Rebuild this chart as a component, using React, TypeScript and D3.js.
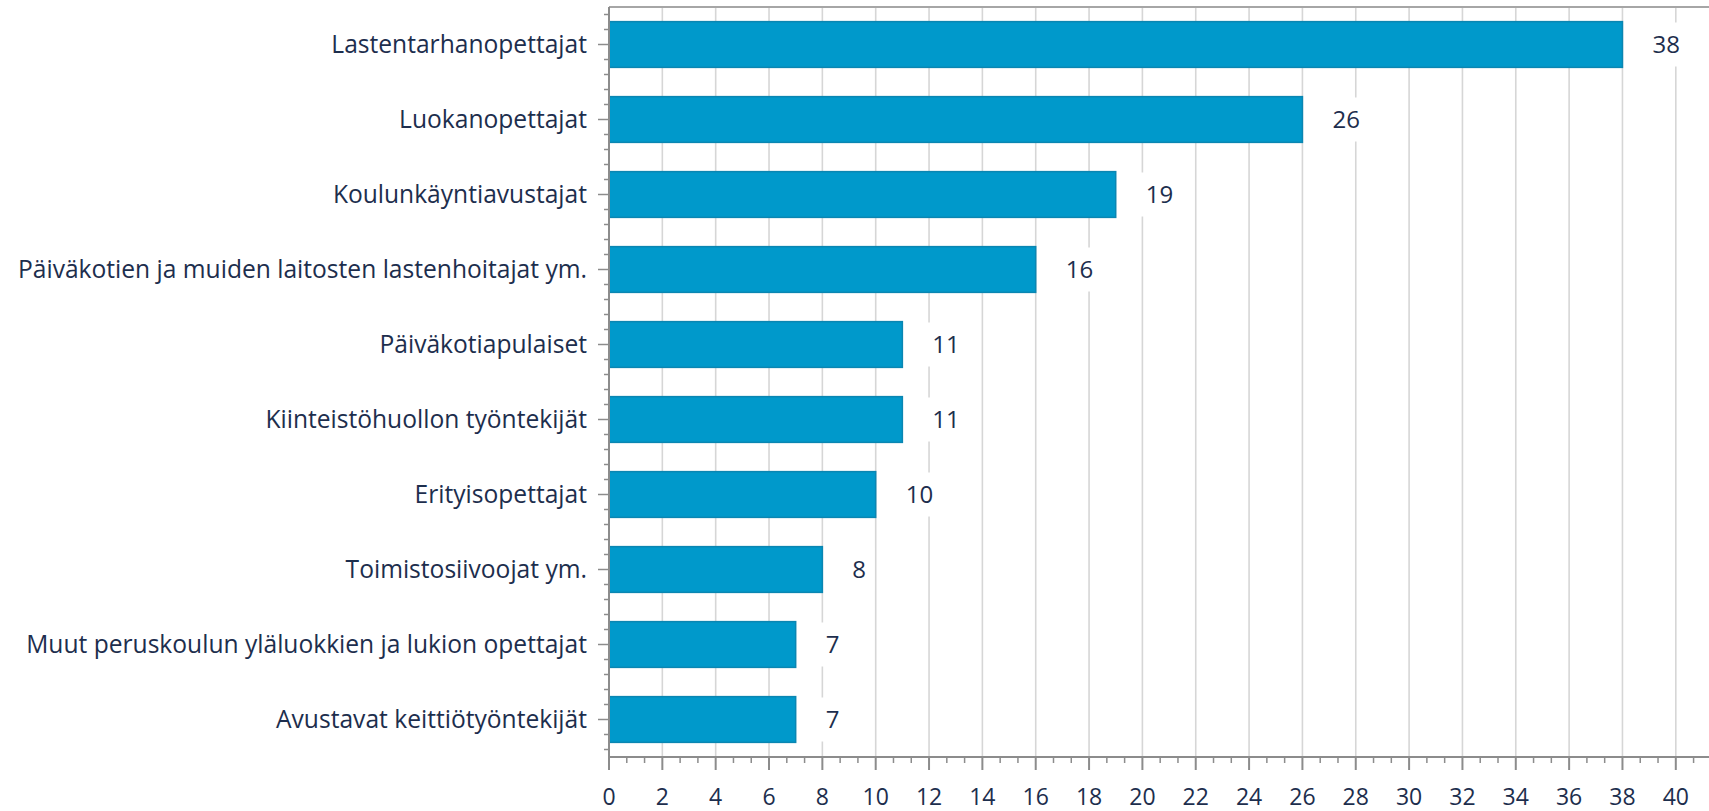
import React from "react";
import * as d3 from "d3";

const categories = [
  "Lastentarhanopettajat",
  "Luokanopettajat",
  "Koulunkäyntiavustajat",
  "Päiväkotien ja muiden laitosten lastenhoitajat ym.",
  "Päiväkotiapulaiset",
  "Kiinteistöhuollon työntekijät",
  "Erityisopettajat",
  "Toimistosiivoojat ym.",
  "Muut peruskoulun yläluokkien ja lukion opettajat",
  "Avustavat keittiötyöntekijät",
];
const values = [38, 26, 19, 16, 11, 11, 10, 8, 7, 7];
const xTicks = d3.range(0, 42, 2);

const W = 1709;
const H = 811;
const left = 609;
const top = 7;
const bottom = 757;
const FONT = "'Open Sans', sans-serif";
const TEXT = "#1d2e4d";

export default function App() {
  const x = d3.scaleLinear().domain([0, 42]).range([left, left + 42 * 26.67]);
  const y = d3
    .scaleBand<string>()
    .domain(categories)
    .range([top, bottom])
    .paddingInner(0.39)
    .paddingOuter(0.195);
  const step = y.step();
  const minorX = d3.range(0, 42 * 3 + 1).map((i) => (i * 2) / 3).filter((v, i) => i % 3 !== 0);
  const minorY: number[] = [];
  categories.forEach((c) => {
    const cy = (y(c) as number) + y.bandwidth() / 2;
    for (const k of [-2, -1, 1, 2]) minorY.push(cy + (k * step) / 5);
  });

  return (
    <svg
      width={W}
      height={H}
      style={{ position: "absolute", left: 0, top: 0, background: "#fff" }}
      fontFamily={FONT}
    >
      {/* gridlines */}
      {xTicks.filter((t) => t > 0).map((t) => (
        <line key={"g" + t} x1={x(t)} x2={x(t)} y1={top} y2={bottom} stroke="#d6d6d6" strokeWidth={1.6} />
      ))}
      {/* bars */}
      {categories.map((c, i) => (
        <rect
          key={"b" + c}
          x={x(0)}
          y={y(c)}
          width={x(values[i]) - x(0)}
          height={y.bandwidth()}
          fill="#0099cb"
          stroke="#0a86b2"
          strokeWidth={1.5}
        />
      ))}
      {/* value labels */}
      {categories.map((c, i) => {
        const cy = (y(c) as number) + y.bandwidth() / 2;
        const bx = x(values[i]);
        const tw = String(values[i]).length * 14;
        return (
          <g key={"v" + c}>
            <rect x={bx + 20} y={cy - 22} width={tw + 18} height={44} fill="#fff" />
            <text x={bx + 30} y={cy} dy="0.35em" fontSize={24} fill={TEXT}>
              {values[i]}
            </text>
          </g>
        );
      })}
      {/* frame */}
      <line x1={left} x2={W} y1={top} y2={top} stroke="#a6a6a6" strokeWidth={2} />
      <line x1={left} x2={left} y1={top} y2={bottom + 13} stroke="#8c8c8c" strokeWidth={2} />
      <line x1={left - 1} x2={W} y1={bottom} y2={bottom} stroke="#8c8c8c" strokeWidth={2} />
      {/* x ticks */}
      {xTicks.map((t) => (
        <g key={"xt" + t}>
          <line x1={x(t)} x2={x(t)} y1={bottom} y2={bottom + 13} stroke="#8c8c8c" strokeWidth={2} />
          <text x={x(t)} y={bottom + 40} textAnchor="middle" dy="0.35em" fontSize={23} fill={TEXT}>
            {t}
          </text>
        </g>
      ))}
      {minorX.map((t) => (
        <line key={"mx" + t} x1={x(t)} x2={x(t)} y1={bottom} y2={bottom + 6} stroke="#8c8c8c" strokeWidth={1.5} />
      ))}
      {/* y ticks */}
      {categories.map((c) => {
        const cy = (y(c) as number) + y.bandwidth() / 2;
        return (
          <g key={"yt" + c}>
            <line x1={left - 11} x2={left} y1={cy} y2={cy} stroke="#8c8c8c" strokeWidth={1.5} />
            <text x={left - 22} y={cy} textAnchor="end" dy="0.35em" fontSize={24.6} fill={TEXT}>
              {c}
            </text>
          </g>
        );
      })}
      {minorY.map((v, i) => (
        <line key={"my" + i} x1={left - 5} x2={left} y1={v} y2={v} stroke="#8c8c8c" strokeWidth={1.5} />
      ))}
    </svg>
  );
}
